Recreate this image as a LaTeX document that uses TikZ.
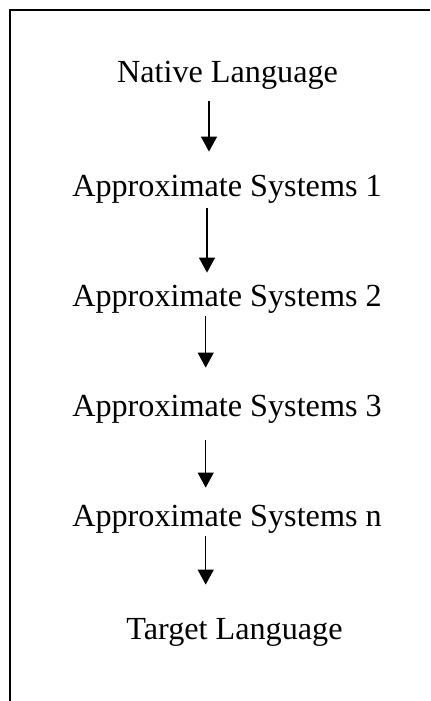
\documentclass[tikz,border=0pt]{standalone}
\usepackage{fontspec}
\setmainfont{Liberation Serif}
\usepackage{tikz}
\usetikzlibrary{arrows.meta}
\tikzset{
  stagetext/.style={inner sep=0pt, anchor=base, text height=11pt, text depth=3.5pt,
                    font=\fontsize{16.1pt}{19pt}\selectfont},
  stagearrow/.style={-{Triangle[length=7.5pt,width=8pt]}, line width=0.65pt},
  frameline/.style={line width=1pt},
}

\begin{document}
\begin{tikzpicture}[x=0.5pt,y=-0.5pt]
  \useasboundingbox (0,0) rectangle (430,701);
  \draw[frameline] (430,10) -- (9.5,10) -- (9.5,701);

  \node[stagetext] (nat) at (227.5,83)  {Native Language};
  \node[stagetext] (as1) at (227,196)   {Approximate Systems 1};
  \node[stagetext] (as2) at (227,306)   {Approximate Systems 2};
  \node[stagetext] (as3) at (227,416)   {Approximate Systems 3};
  \node[stagetext] (asn) at (227,526)   {Approximate Systems n};
  \node[stagetext] (tl)  at (234.5,639) {Target Language};

  \draw[stagearrow, shorten <=5.5pt, shorten >=11pt]
    ([xshift=-9.25pt]nat.south) -- ([xshift=-9pt]as1.north);
  \draw[stagearrow, shorten <=2.5pt, shorten >=5.5pt]
    ([xshift=-10pt]as1.south) -- ([xshift=-10pt]as2.north);
  \draw[stagearrow, shorten <=1.5pt, shorten >=13pt]
    ([xshift=-10.65pt]as2.south) -- ([xshift=-10.65pt]as3.north);
  \draw[stagearrow, shorten <=8.5pt, shorten >=8pt]
    ([xshift=-10.65pt]as3.south) -- ([xshift=-10.65pt]asn.north);
  \draw[stagearrow, shorten <=1.5pt, shorten >=16pt]
    ([xshift=-10.65pt]asn.south) -- ([xshift=-14.4pt]tl.north);
\end{tikzpicture}
\end{document}
